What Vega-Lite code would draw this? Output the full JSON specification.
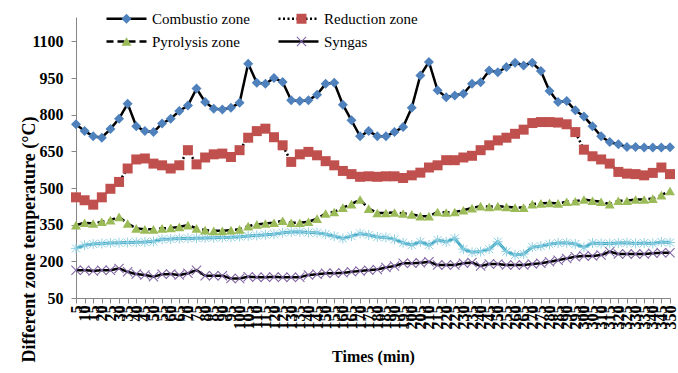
{
"$schema": "https://vega.github.io/schema/vega-lite/v6.json",
"width": 594, "height": 281,
"autosize": "none",
"padding": {"left": 76, "top": 17, "right": 8, "bottom": 75},
"background": "white",
"config": {"view": {"stroke": null}, "font": "Liberation Serif"},
"data": {"values": [
{"t":5,"s":"Combustio zone","v":761},{"t":10,"s":"Combustio zone","v":733},{"t":15,"s":"Combustio zone","v":712},{"t":20,"s":"Combustio zone","v":706},{"t":25,"s":"Combustio zone","v":742},{"t":30,"s":"Combustio zone","v":784},{"t":35,"s":"Combustio zone","v":845},{"t":40,"s":"Combustio zone","v":753},{"t":45,"s":"Combustio zone","v":733},{"t":50,"s":"Combustio zone","v":729},
{"t":55,"s":"Combustio zone","v":764},{"t":60,"s":"Combustio zone","v":784},{"t":65,"s":"Combustio zone","v":815},{"t":70,"s":"Combustio zone","v":838},{"t":75,"s":"Combustio zone","v":907},{"t":80,"s":"Combustio zone","v":852},{"t":85,"s":"Combustio zone","v":825},{"t":90,"s":"Combustio zone","v":821},{"t":95,"s":"Combustio zone","v":829},{"t":100,"s":"Combustio zone","v":849},
{"t":105,"s":"Combustio zone","v":1009},{"t":110,"s":"Combustio zone","v":931},{"t":115,"s":"Combustio zone","v":927},{"t":120,"s":"Combustio zone","v":950},{"t":125,"s":"Combustio zone","v":934},{"t":130,"s":"Combustio zone","v":859},{"t":135,"s":"Combustio zone","v":856},{"t":140,"s":"Combustio zone","v":859},{"t":145,"s":"Combustio zone","v":882},{"t":150,"s":"Combustio zone","v":927},
{"t":155,"s":"Combustio zone","v":931},{"t":160,"s":"Combustio zone","v":841},{"t":165,"s":"Combustio zone","v":777},{"t":170,"s":"Combustio zone","v":712},{"t":175,"s":"Combustio zone","v":733},{"t":180,"s":"Combustio zone","v":712},{"t":185,"s":"Combustio zone","v":712},{"t":190,"s":"Combustio zone","v":729},{"t":195,"s":"Combustio zone","v":750},{"t":200,"s":"Combustio zone","v":829},
{"t":205,"s":"Combustio zone","v":961},{"t":210,"s":"Combustio zone","v":1016},{"t":215,"s":"Combustio zone","v":900},{"t":220,"s":"Combustio zone","v":872},{"t":225,"s":"Combustio zone","v":879},{"t":230,"s":"Combustio zone","v":886},{"t":235,"s":"Combustio zone","v":927},{"t":240,"s":"Combustio zone","v":933},{"t":245,"s":"Combustio zone","v":981},{"t":250,"s":"Combustio zone","v":974},
{"t":255,"s":"Combustio zone","v":995},{"t":260,"s":"Combustio zone","v":1013},{"t":265,"s":"Combustio zone","v":1002},{"t":270,"s":"Combustio zone","v":1013},{"t":275,"s":"Combustio zone","v":979},{"t":280,"s":"Combustio zone","v":897},{"t":285,"s":"Combustio zone","v":852},{"t":290,"s":"Combustio zone","v":856},{"t":295,"s":"Combustio zone","v":818},{"t":300,"s":"Combustio zone","v":793},
{"t":305,"s":"Combustio zone","v":753},{"t":310,"s":"Combustio zone","v":712},{"t":315,"s":"Combustio zone","v":688},{"t":320,"s":"Combustio zone","v":679},{"t":325,"s":"Combustio zone","v":668},{"t":330,"s":"Combustio zone","v":668},{"t":335,"s":"Combustio zone","v":666},{"t":340,"s":"Combustio zone","v":666},{"t":345,"s":"Combustio zone","v":666},{"t":350,"s":"Combustio zone","v":667},
{"t":5,"s":"Reduction zone","v":462},{"t":10,"s":"Reduction zone","v":450},{"t":15,"s":"Reduction zone","v":432},{"t":20,"s":"Reduction zone","v":462},{"t":25,"s":"Reduction zone","v":497},{"t":30,"s":"Reduction zone","v":525},{"t":35,"s":"Reduction zone","v":580},{"t":40,"s":"Reduction zone","v":617},{"t":45,"s":"Reduction zone","v":621},{"t":50,"s":"Reduction zone","v":600},
{"t":55,"s":"Reduction zone","v":593},{"t":60,"s":"Reduction zone","v":580},{"t":65,"s":"Reduction zone","v":593},{"t":70,"s":"Reduction zone","v":655},{"t":75,"s":"Reduction zone","v":597},{"t":80,"s":"Reduction zone","v":625},{"t":85,"s":"Reduction zone","v":638},{"t":90,"s":"Reduction zone","v":641},{"t":95,"s":"Reduction zone","v":627},{"t":100,"s":"Reduction zone","v":655},
{"t":105,"s":"Reduction zone","v":706},{"t":110,"s":"Reduction zone","v":733},{"t":115,"s":"Reduction zone","v":743},{"t":120,"s":"Reduction zone","v":708},{"t":125,"s":"Reduction zone","v":675},{"t":130,"s":"Reduction zone","v":607},{"t":135,"s":"Reduction zone","v":638},{"t":140,"s":"Reduction zone","v":648},{"t":145,"s":"Reduction zone","v":634},{"t":150,"s":"Reduction zone","v":610},
{"t":155,"s":"Reduction zone","v":593},{"t":160,"s":"Reduction zone","v":570},{"t":165,"s":"Reduction zone","v":557},{"t":170,"s":"Reduction zone","v":546},{"t":175,"s":"Reduction zone","v":548},{"t":180,"s":"Reduction zone","v":546},{"t":185,"s":"Reduction zone","v":548},{"t":190,"s":"Reduction zone","v":548},{"t":195,"s":"Reduction zone","v":541},{"t":200,"s":"Reduction zone","v":552},
{"t":205,"s":"Reduction zone","v":563},{"t":210,"s":"Reduction zone","v":584},{"t":215,"s":"Reduction zone","v":593},{"t":220,"s":"Reduction zone","v":614},{"t":225,"s":"Reduction zone","v":614},{"t":230,"s":"Reduction zone","v":625},{"t":235,"s":"Reduction zone","v":632},{"t":240,"s":"Reduction zone","v":655},{"t":245,"s":"Reduction zone","v":675},{"t":250,"s":"Reduction zone","v":695},
{"t":255,"s":"Reduction zone","v":706},{"t":260,"s":"Reduction zone","v":722},{"t":265,"s":"Reduction zone","v":739},{"t":270,"s":"Reduction zone","v":766},{"t":275,"s":"Reduction zone","v":770},{"t":280,"s":"Reduction zone","v":770},{"t":285,"s":"Reduction zone","v":768},{"t":290,"s":"Reduction zone","v":761},{"t":295,"s":"Reduction zone","v":729},{"t":300,"s":"Reduction zone","v":657},
{"t":305,"s":"Reduction zone","v":630},{"t":310,"s":"Reduction zone","v":617},{"t":315,"s":"Reduction zone","v":600},{"t":320,"s":"Reduction zone","v":566},{"t":325,"s":"Reduction zone","v":559},{"t":330,"s":"Reduction zone","v":557},{"t":335,"s":"Reduction zone","v":552},{"t":340,"s":"Reduction zone","v":562},{"t":345,"s":"Reduction zone","v":584},{"t":350,"s":"Reduction zone","v":557},
{"t":5,"s":"Pyrolysis zone","v":348},{"t":10,"s":"Pyrolysis zone","v":358},{"t":15,"s":"Pyrolysis zone","v":355},{"t":20,"s":"Pyrolysis zone","v":362},{"t":25,"s":"Pyrolysis zone","v":369},{"t":30,"s":"Pyrolysis zone","v":382},{"t":35,"s":"Pyrolysis zone","v":355},{"t":40,"s":"Pyrolysis zone","v":335},{"t":45,"s":"Pyrolysis zone","v":331},{"t":50,"s":"Pyrolysis zone","v":331},
{"t":55,"s":"Pyrolysis zone","v":335},{"t":60,"s":"Pyrolysis zone","v":337},{"t":65,"s":"Pyrolysis zone","v":341},{"t":70,"s":"Pyrolysis zone","v":348},{"t":75,"s":"Pyrolysis zone","v":335},{"t":80,"s":"Pyrolysis zone","v":328},{"t":85,"s":"Pyrolysis zone","v":325},{"t":90,"s":"Pyrolysis zone","v":325},{"t":95,"s":"Pyrolysis zone","v":328},{"t":100,"s":"Pyrolysis zone","v":331},
{"t":105,"s":"Pyrolysis zone","v":344},{"t":110,"s":"Pyrolysis zone","v":351},{"t":115,"s":"Pyrolysis zone","v":355},{"t":120,"s":"Pyrolysis zone","v":358},{"t":125,"s":"Pyrolysis zone","v":366},{"t":130,"s":"Pyrolysis zone","v":358},{"t":135,"s":"Pyrolysis zone","v":358},{"t":140,"s":"Pyrolysis zone","v":362},{"t":145,"s":"Pyrolysis zone","v":375},{"t":150,"s":"Pyrolysis zone","v":396},
{"t":155,"s":"Pyrolysis zone","v":402},{"t":160,"s":"Pyrolysis zone","v":420},{"t":165,"s":"Pyrolysis zone","v":434},{"t":170,"s":"Pyrolysis zone","v":453},{"t":175,"s":"Pyrolysis zone","v":416},{"t":180,"s":"Pyrolysis zone","v":398},{"t":185,"s":"Pyrolysis zone","v":398},{"t":190,"s":"Pyrolysis zone","v":400},{"t":195,"s":"Pyrolysis zone","v":396},{"t":200,"s":"Pyrolysis zone","v":392},
{"t":205,"s":"Pyrolysis zone","v":385},{"t":210,"s":"Pyrolysis zone","v":385},{"t":215,"s":"Pyrolysis zone","v":402},{"t":220,"s":"Pyrolysis zone","v":400},{"t":225,"s":"Pyrolysis zone","v":402},{"t":230,"s":"Pyrolysis zone","v":409},{"t":235,"s":"Pyrolysis zone","v":418},{"t":240,"s":"Pyrolysis zone","v":426},{"t":245,"s":"Pyrolysis zone","v":423},{"t":250,"s":"Pyrolysis zone","v":426},
{"t":255,"s":"Pyrolysis zone","v":423},{"t":260,"s":"Pyrolysis zone","v":420},{"t":265,"s":"Pyrolysis zone","v":420},{"t":270,"s":"Pyrolysis zone","v":434},{"t":275,"s":"Pyrolysis zone","v":437},{"t":280,"s":"Pyrolysis zone","v":439},{"t":285,"s":"Pyrolysis zone","v":437},{"t":290,"s":"Pyrolysis zone","v":444},{"t":295,"s":"Pyrolysis zone","v":446},{"t":300,"s":"Pyrolysis zone","v":453},
{"t":305,"s":"Pyrolysis zone","v":448},{"t":310,"s":"Pyrolysis zone","v":444},{"t":315,"s":"Pyrolysis zone","v":434},{"t":320,"s":"Pyrolysis zone","v":448},{"t":325,"s":"Pyrolysis zone","v":448},{"t":330,"s":"Pyrolysis zone","v":453},{"t":335,"s":"Pyrolysis zone","v":453},{"t":340,"s":"Pyrolysis zone","v":457},{"t":345,"s":"Pyrolysis zone","v":471},{"t":350,"s":"Pyrolysis zone","v":488},
{"t":5,"s":"Syngas","v":164},{"t":10,"s":"Syngas","v":164},{"t":15,"s":"Syngas","v":161},{"t":20,"s":"Syngas","v":164},{"t":25,"s":"Syngas","v":164},{"t":30,"s":"Syngas","v":171},{"t":35,"s":"Syngas","v":157},{"t":40,"s":"Syngas","v":148},{"t":45,"s":"Syngas","v":144},{"t":50,"s":"Syngas","v":137},
{"t":55,"s":"Syngas","v":147},{"t":60,"s":"Syngas","v":148},{"t":65,"s":"Syngas","v":144},{"t":70,"s":"Syngas","v":151},{"t":75,"s":"Syngas","v":164},{"t":80,"s":"Syngas","v":141},{"t":85,"s":"Syngas","v":141},{"t":90,"s":"Syngas","v":141},{"t":95,"s":"Syngas","v":130},{"t":100,"s":"Syngas","v":130},
{"t":105,"s":"Syngas","v":137},{"t":110,"s":"Syngas","v":135},{"t":115,"s":"Syngas","v":135},{"t":120,"s":"Syngas","v":136},{"t":125,"s":"Syngas","v":135},{"t":130,"s":"Syngas","v":135},{"t":135,"s":"Syngas","v":135},{"t":140,"s":"Syngas","v":144},{"t":145,"s":"Syngas","v":147},{"t":150,"s":"Syngas","v":151},
{"t":155,"s":"Syngas","v":151},{"t":160,"s":"Syngas","v":153},{"t":165,"s":"Syngas","v":157},{"t":170,"s":"Syngas","v":161},{"t":175,"s":"Syngas","v":164},{"t":180,"s":"Syngas","v":167},{"t":185,"s":"Syngas","v":175},{"t":190,"s":"Syngas","v":181},{"t":195,"s":"Syngas","v":192},{"t":200,"s":"Syngas","v":192},
{"t":205,"s":"Syngas","v":194},{"t":210,"s":"Syngas","v":198},{"t":215,"s":"Syngas","v":185},{"t":220,"s":"Syngas","v":185},{"t":225,"s":"Syngas","v":185},{"t":230,"s":"Syngas","v":192},{"t":235,"s":"Syngas","v":195},{"t":240,"s":"Syngas","v":181},{"t":245,"s":"Syngas","v":189},{"t":250,"s":"Syngas","v":189},
{"t":255,"s":"Syngas","v":185},{"t":260,"s":"Syngas","v":185},{"t":265,"s":"Syngas","v":185},{"t":270,"s":"Syngas","v":189},{"t":275,"s":"Syngas","v":192},{"t":280,"s":"Syngas","v":198},{"t":285,"s":"Syngas","v":205},{"t":290,"s":"Syngas","v":212},{"t":295,"s":"Syngas","v":219},{"t":300,"s":"Syngas","v":222},
{"t":305,"s":"Syngas","v":222},{"t":310,"s":"Syngas","v":226},{"t":315,"s":"Syngas","v":239},{"t":320,"s":"Syngas","v":230},{"t":325,"s":"Syngas","v":230},{"t":330,"s":"Syngas","v":230},{"t":335,"s":"Syngas","v":230},{"t":340,"s":"Syngas","v":233},{"t":345,"s":"Syngas","v":235},{"t":350,"s":"Syngas","v":235},
{"t":5,"s":"Series 5","v":253},{"t":10,"s":"Series 5","v":266},{"t":15,"s":"Series 5","v":271},{"t":20,"s":"Series 5","v":273},{"t":25,"s":"Series 5","v":275},{"t":30,"s":"Series 5","v":276},{"t":35,"s":"Series 5","v":277},{"t":40,"s":"Series 5","v":278},{"t":45,"s":"Series 5","v":279},{"t":50,"s":"Series 5","v":281},
{"t":55,"s":"Series 5","v":290},{"t":60,"s":"Series 5","v":291},{"t":65,"s":"Series 5","v":293},{"t":70,"s":"Series 5","v":294},{"t":75,"s":"Series 5","v":295},{"t":80,"s":"Series 5","v":296},{"t":85,"s":"Series 5","v":297},{"t":90,"s":"Series 5","v":298},{"t":95,"s":"Series 5","v":299},{"t":100,"s":"Series 5","v":301},
{"t":105,"s":"Series 5","v":304},{"t":110,"s":"Series 5","v":306},{"t":115,"s":"Series 5","v":309},{"t":120,"s":"Series 5","v":311},{"t":125,"s":"Series 5","v":317},{"t":130,"s":"Series 5","v":320},{"t":135,"s":"Series 5","v":321},{"t":140,"s":"Series 5","v":318},{"t":145,"s":"Series 5","v":317},{"t":150,"s":"Series 5","v":311},
{"t":155,"s":"Series 5","v":303},{"t":160,"s":"Series 5","v":294},{"t":165,"s":"Series 5","v":303},{"t":170,"s":"Series 5","v":314},{"t":175,"s":"Series 5","v":308},{"t":180,"s":"Series 5","v":300},{"t":185,"s":"Series 5","v":298},{"t":190,"s":"Series 5","v":290},{"t":195,"s":"Series 5","v":276},{"t":200,"s":"Series 5","v":267},
{"t":205,"s":"Series 5","v":280},{"t":210,"s":"Series 5","v":267},{"t":215,"s":"Series 5","v":287},{"t":220,"s":"Series 5","v":280},{"t":225,"s":"Series 5","v":294},{"t":230,"s":"Series 5","v":250},{"t":235,"s":"Series 5","v":237},{"t":240,"s":"Series 5","v":240},{"t":245,"s":"Series 5","v":250},{"t":250,"s":"Series 5","v":280},
{"t":255,"s":"Series 5","v":240},{"t":260,"s":"Series 5","v":226},{"t":265,"s":"Series 5","v":230},{"t":270,"s":"Series 5","v":258},{"t":275,"s":"Series 5","v":262},{"t":280,"s":"Series 5","v":270},{"t":285,"s":"Series 5","v":275},{"t":290,"s":"Series 5","v":276},{"t":295,"s":"Series 5","v":271},{"t":300,"s":"Series 5","v":257},
{"t":305,"s":"Series 5","v":275},{"t":310,"s":"Series 5","v":273},{"t":315,"s":"Series 5","v":273},{"t":320,"s":"Series 5","v":275},{"t":325,"s":"Series 5","v":276},{"t":330,"s":"Series 5","v":273},{"t":335,"s":"Series 5","v":275},{"t":340,"s":"Series 5","v":273},{"t":345,"s":"Series 5","v":279},{"t":350,"s":"Series 5","v":277}
]},
"encoding": {
  "x": {"field": "t", "type": "ordinal", "scale": {"type": "point", "padding": 0},
    "axis": {"title": "Times (min)", "titleFont": "Liberation Serif", "titleFontSize": 16, "titleFontWeight": "bold", "titleColor": "black", "titleY": 63, "titleBaseline": "alphabetic",
      "labelAngle": 270, "labelFont": "Liberation Serif", "labelFontSize": 16, "labelFontWeight": "bold", "labelColor": "black", "labelOverlap": false, "labelPadding": 2,
      "tickSize": 5, "tickColor": "#868686", "domainColor": "#868686", "grid": false}},
  "y": {"field": "v", "type": "quantitative", "scale": {"domain": [50, 1200], "nice": false, "zero": false},
    "axis": {"title": "Different zone temperature (°C)", "values": [50, 200, 350, 500, 650, 800, 950, 1100], "format": "d",
      "titleFont": "Liberation Serif", "titleFontSize": 18, "titleFontWeight": "bold", "titleColor": "black", "titleAngle": 270, "titleX": -42, "titleY": 222, "titleAlign": "center", "titleBaseline": "alphabetic",
      "labelFont": "Liberation Serif", "labelFontSize": 16, "labelFontWeight": "bold", "labelColor": "black", "labelPadding": 8,
      "tickSize": 5, "tickColor": "#868686", "domainColor": "#868686", "grid": false}}
},
"layer": [
  {"transform": [{"filter": "datum.s != 'Series 5'"}],
   "mark": {"type": "line", "color": "black", "strokeWidth": 2.5},
   "encoding": {"strokeDash": {"field": "s", "type": "nominal", "sort": ["Combustio zone", "Pyrolysis zone", "Reduction zone", "Syngas"],
     "scale": {"range": [[1, 0], [7, 4], [2, 2.5], [1, 0]]},
     "legend": {"orient": "none", "legendX": 43, "legendY": -6, "columns": 2, "title": null, "symbolType": "M-4,0H4", "symbolSize": 100,
       "symbolStrokeColor": "black", "symbolStrokeWidth": 2.5, "symbolFillColor": "transparent",
       "labelFont": "Liberation Serif", "labelFontSize": 15, "labelColor": "black", "labelOffset": 18, "columnPadding": 23, "rowPadding": 7}}}},
  {"transform": [{"filter": "datum.s == 'Series 5'"}],
   "mark": {"type": "line", "color": "#4BACC6", "strokeWidth": 3}},
  {"transform": [{"filter": "datum.s == 'Series 5'"}],
   "mark": {"type": "point", "shape": "M-1,0H1M0,-1V1M-0.8,-0.8L0.8,0.8M-0.8,0.8L0.8,-0.8", "filled": false, "color": "#8FD0E3", "strokeWidth": 1, "size": 100, "opacity": 1}},
  {"transform": [{"filter": "datum.s != 'Series 5'"}],
   "mark": {"type": "point", "filled": true, "opacity": 1, "size": 100},
   "encoding": {
     "color": {"field": "s", "type": "nominal", "scale": {"domain": ["Combustio zone", "Pyrolysis zone", "Reduction zone", "Syngas"], "range": ["#4F81BD", "#9BBB59", "#C0504D", "#8064A2"]},
       "legend": {"orient": "none", "legendX": 43, "legendY": -6, "columns": 2, "title": null, "symbolSize": 100, "symbolStrokeWidth": 0,
         "labelExpr": "''", "labelFontSize": 15, "labelOffset": 18, "columnPadding": 142, "rowPadding": 7}},
     "shape": {"field": "s", "type": "nominal", "scale": {"domain": ["Combustio zone", "Pyrolysis zone", "Reduction zone", "Syngas"], "range": ["diamond", "triangle-up", "square", "M-1,-0.85L-0.85,-1L0,-0.15L0.85,-1L1,-0.85L0.15,0L1,0.85L0.85,1L0,0.15L-0.85,1L-1,0.85L-0.15,0Z"]},
       "legend": {"orient": "none", "legendX": 43, "legendY": -6, "columns": 2, "title": null, "symbolSize": 100, "symbolStrokeWidth": 0,
         "labelExpr": "''", "labelFontSize": 15, "labelOffset": 18, "columnPadding": 142, "rowPadding": 7}}
   }}
]
}
